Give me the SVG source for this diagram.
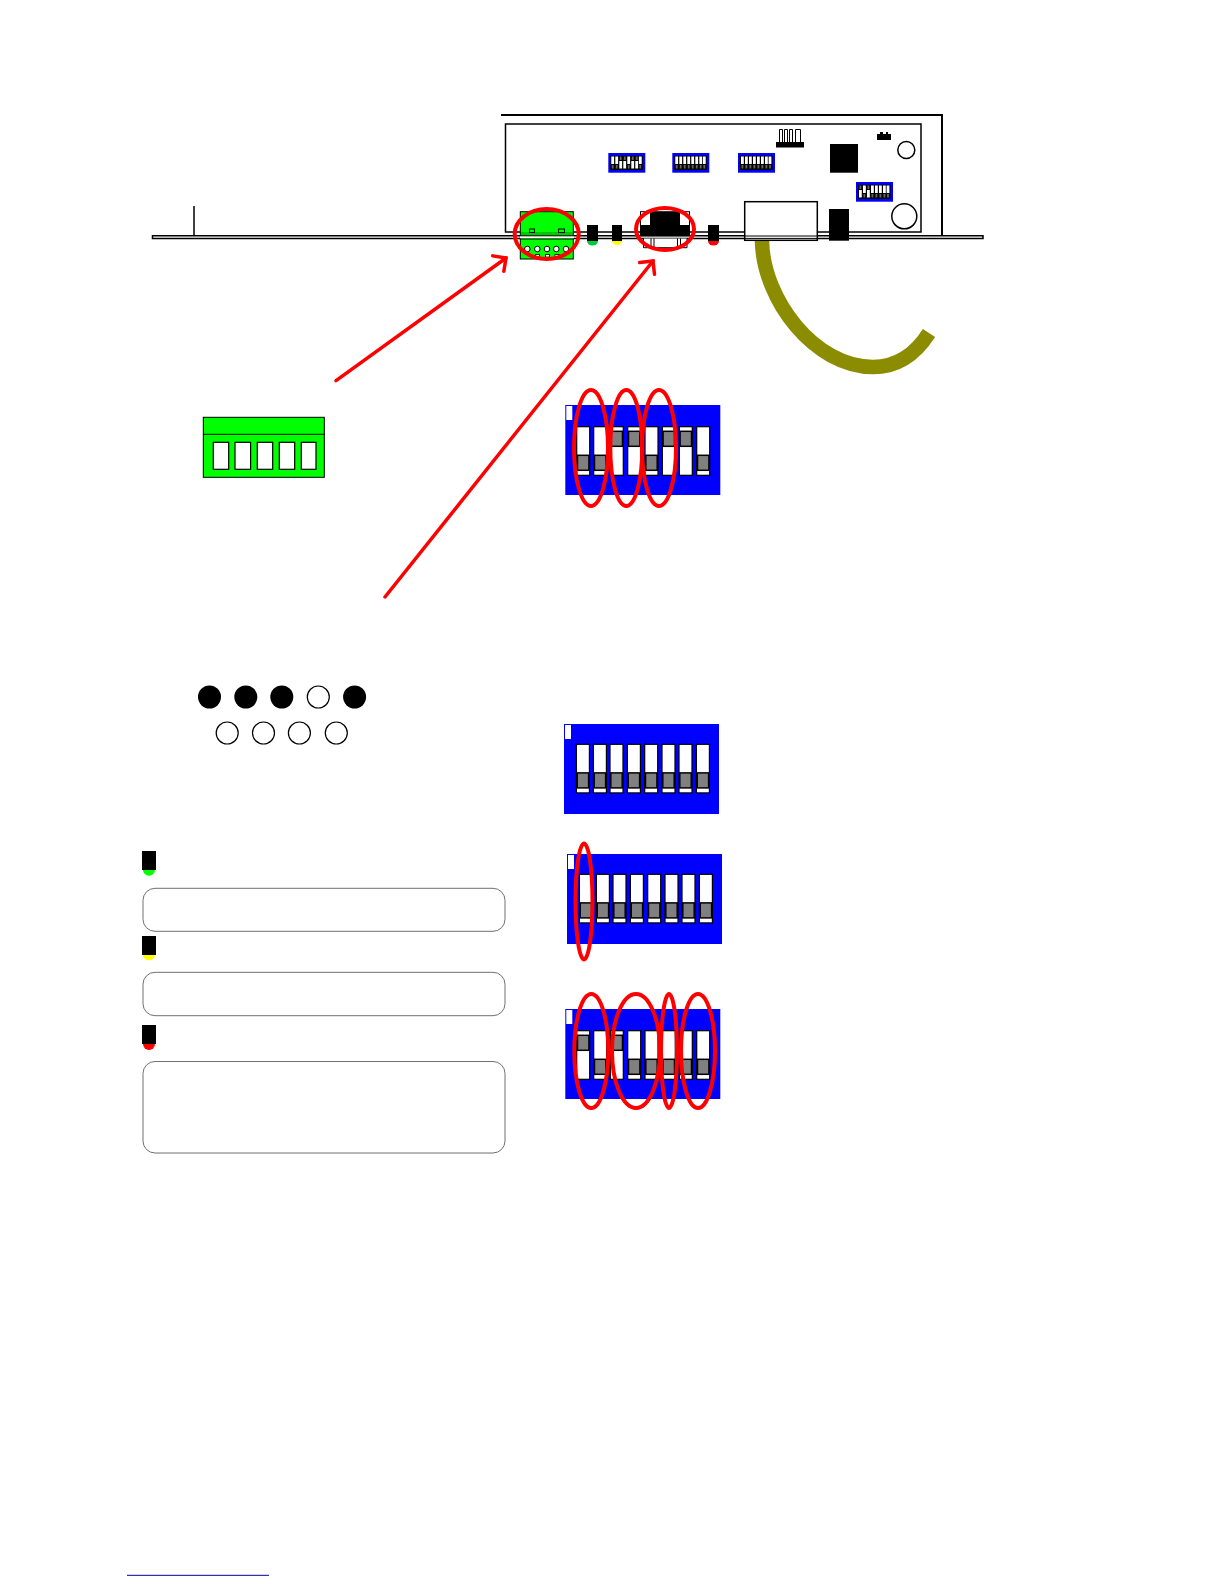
<svg xmlns="http://www.w3.org/2000/svg" width="1224" height="1584" viewBox="0 0 1224 1584">
<style>
.ln{fill:none;stroke:#000;stroke-width:1.5}
.ln2{fill:none;stroke:#000;stroke-width:2}
.wh{fill:#fff;stroke:#000;stroke-width:1.2}
.k{fill:#000}
.blue{fill:#0000ff}
.sw{fill:#fff;stroke:#000;stroke-width:1.2}
.gr{fill:#808080;stroke:#000;stroke-width:1.5}
.red{fill:none;stroke:#ff0000;stroke-width:4}
.grn{fill:#00ff00;stroke:#000;stroke-width:1}
.box{fill:#fff;stroke:#707070;stroke-width:1}
.pin{fill:#fff;stroke:#000;stroke-width:1}
.arrow{fill:none;stroke:#ff0000;stroke-width:3.500;stroke-linecap:round;marker-end:url(#ah)}
</style>
<defs>
<marker id="ah" viewBox="0 0 16 24" refX="13" refY="12" markerWidth="16" markerHeight="24" markerUnits="userSpaceOnUse" orient="auto"><path d="M3.500 2.500L13 12L3.500 21.500" fill="none" stroke="#ff0000" stroke-width="3.500" stroke-linecap="round"/></marker>
<g id="lo"><rect class="sw" x="0" y="0" width="13" height="48.6"/><rect class="gr" x="0.8" y="28.6" width="11.4" height="15"/></g>
<g id="hi"><rect class="sw" x="0" y="0" width="13" height="48.6"/><rect class="gr" x="0.8" y="4.6" width="11.4" height="15"/></g>
<rect id="plate" class="blue" x="0" y="0" width="155" height="90"/>
<rect id="tag" fill="#fff" x="1" y="1" width="6" height="14"/>
<g id="mlo"><rect fill="#fff" width="2.800" height="7.500"/><rect fill="#666" x="0.500" y="8.500" width="1.800" height="3.500"/></g>
<g id="mhi"><rect fill="#fff" y="4.500" width="2.800" height="7.500"/><rect fill="#666" x="0.500" y="0" width="1.800" height="3.500"/></g>
<g id="mini"><rect class="blue" width="37" height="19.700"/><rect class="k" x="2" y="2.700" width="32.500" height="14.300"/></g>
<g id="mrow"><use href="#mlo" x="3"/><use href="#mlo" x="7"/><use href="#mlo" x="11"/><use href="#mlo" x="15"/><use href="#mlo" x="19"/><use href="#mlo" x="23"/><use href="#mlo" x="27"/><use href="#mlo" x="30.600"/></g>
</defs>

<g id="chassis">
<path class="ln2" d="M501 115H942V235"/>
<rect class="ln" x="505.500" y="124" width="415.500" height="108"/>
<path d="M194 206V236" class="ln"/>
<path d="M152.500 235.800H983V238.400H152.500Z" fill="#fff" stroke="#000" stroke-width="1.500"/>
</g>

<g id="cable"><path d="M762 241C763 300 815 367 873 367C896 367 915 355 929 333" fill="none" stroke="#8c8c00" stroke-width="14.500"/></g>

<g id="terminal-block">
<rect class="grn" x="520.300" y="211.700" width="53" height="47.300"/>
<rect fill="#00a000" opacity="0.6" x="521" y="232" width="52" height="3.800"/>
<rect fill="#fff" x="520" y="235.800" width="54" height="2.600"/>
<path d="M520 235.800H574M520 239H574" stroke="#000" stroke-width="1"/>
<rect class="grn" x="529.500" y="229" width="5" height="3.500"/><rect class="grn" x="558.500" y="229" width="6" height="3.500"/>
<g class="pin"><circle cx="527.300" cy="249" r="2.800"/><circle cx="537.300" cy="249" r="2.800"/><circle cx="547" cy="249" r="2.800"/><circle cx="556.300" cy="249" r="2.800"/><circle cx="566" cy="249" r="2.800"/></g>
<g fill="#fff" stroke="#000" stroke-width="0.800"><rect x="535.500" y="254.500" width="4" height="2.500"/><rect x="545.500" y="254.500" width="4" height="2.500"/><rect x="555" y="254.500" width="4" height="2.500"/></g>
</g>

<g id="panel-led-green"><rect class="k" x="587" y="225" width="11" height="16"/><path d="M587 241A5.500 4.500 0 0 0 598 241Z" fill="#00cc33"/></g>
<g id="panel-led-yellow"><rect class="k" x="612" y="225" width="10" height="16"/><path d="M612 241A5 4 0 0 0 622 241Z" fill="#ffff00"/></g>
<g id="panel-led-red"><rect class="k" x="708" y="225" width="11" height="16"/><path d="M708 241A5.500 4.500 0 0 0 719 241Z" fill="#ff0000"/></g>

<g id="db-connector">
<rect x="640.500" y="211.700" width="49" height="24" fill="#fff" stroke="#000"/>
<path class="k" d="M650 212H680V225H690V236H640V225H650Z"/>
<path d="M643.500 238.400V247.700H687V238.400M651 238.400V247.700M654 238.400V247.700M677.500 238.400V247.700M680.500 238.400V247.700" fill="#fff" stroke="#000"/>
</g>

<g id="ethernet"><rect x="744.700" y="201.700" width="72.600" height="38.600" fill="#fff" stroke="#000" stroke-width="1.500"/><path d="M744.700 236H817.300M744.700 238.400H817.300" stroke="#000" stroke-width="1"/></g>
<g id="power-jack"><rect class="k" x="829" y="209" width="20" height="31.700"/></g>

<g id="chip"><rect class="k" x="830" y="144" width="28" height="28.700"/></g>
<g id="header"><rect class="k" x="776" y="142" width="28" height="5.500"/><path d="M779.500 142V129.500H782.500V142M784.500 142V129.500H787.500V142M789.500 142V129.500H792.500V142M795.500 142V129.500H800.500V142" fill="#fff" stroke="#000" stroke-width="1"/></g>
<g id="small-connector"><path class="k" d="M877 134H880V132H883V134H886V132H888V134H891V140H877Z"/></g>
<g id="hole-1"><circle class="ln" cx="906.300" cy="150" r="8.500"/></g>
<g id="hole-2"><circle class="ln" cx="904.300" cy="216.300" r="12.500"/></g>

<g id="mini-dip-1" transform="translate(608.300 153)"><use href="#mini"/><g transform="translate(0 3.500)"><use href="#mlo" x="3"/><use href="#mlo" x="7"/><use href="#mhi" x="11"/><use href="#mhi" x="15"/><use href="#mlo" x="19"/><use href="#mhi" x="23"/><use href="#mhi" x="27"/><use href="#mlo" x="30.600"/></g></g>
<g id="mini-dip-2" transform="translate(672.300 153)"><use href="#mini"/><use href="#mrow" y="3.500"/></g>
<g id="mini-dip-3" transform="translate(738 153)"><use href="#mini"/><use href="#mrow" y="3.500"/></g>
<g id="mini-dip-4" transform="translate(856 182)"><use href="#mini"/><g transform="translate(0 3.500)"><use href="#mhi" x="3"/><use href="#mlo" x="7"/><use href="#mhi" x="11"/><use href="#mlo" x="15"/><use href="#mlo" x="19"/><use href="#mlo" x="23"/><use href="#mlo" x="27"/><use href="#mlo" x="30.600"/></g></g>

<g id="connectors">
<path class="arrow" d="M336 380.700L506 258"/>
<path class="arrow" d="M385 597L653 261"/>
</g>
<g id="panel-highlights">
<ellipse class="red" cx="546.700" cy="234" rx="32" ry="25"/>
<ellipse class="red" cx="665" cy="229" rx="29" ry="21"/>
</g>

<g id="terminal-large">
<rect class="grn" x="203.300" y="417.300" width="121" height="60"/>
<path d="M203.300 434.300H324.300" stroke="#000"/>
<rect class="sw" x="213.300" y="442.300" width="15.400" height="27"/><rect class="sw" x="235" y="442.300" width="15.600" height="27"/><rect class="sw" x="257.300" y="442.300" width="15.400" height="27"/><rect class="sw" x="279.300" y="442.300" width="15.400" height="27"/><rect class="sw" x="301.300" y="442.300" width="14.700" height="27"/>
</g>

<g id="dip-1" transform="translate(565.300 405)"><use href="#plate"/><use href="#tag"/>
<g transform="translate(0 21.700)"><use href="#lo" x="11.400"/><use href="#lo" x="28.400"/><use href="#hi" x="45"/><use href="#hi" x="62.400"/><use href="#lo" x="79.700"/><use href="#hi" x="97"/><use href="#hi" x="114"/><use href="#lo" x="131.400"/></g>
</g>
<g id="dip-1-marks"><ellipse class="red" cx="591" cy="448" rx="17" ry="58"/><ellipse class="red" cx="626.300" cy="448" rx="16" ry="58"/><ellipse class="red" cx="659" cy="448" rx="17" ry="58"/></g>

<g id="dip-2" transform="translate(564 724)"><use href="#plate"/><use href="#tag"/>
<g transform="translate(1 20.300)"><use href="#lo" x="11.400"/><use href="#lo" x="28.400"/><use href="#lo" x="45"/><use href="#lo" x="62.400"/><use href="#lo" x="79.700"/><use href="#lo" x="97"/><use href="#lo" x="114"/><use href="#lo" x="131.400"/></g>
</g>

<g id="dip-3" transform="translate(567 854)"><use href="#plate"/><use href="#tag"/>
<g transform="translate(1 20.300)"><use href="#lo" x="11.400"/><use href="#lo" x="28.400"/><use href="#lo" x="45"/><use href="#lo" x="62.400"/><use href="#lo" x="79.700"/><use href="#lo" x="97"/><use href="#lo" x="114"/><use href="#lo" x="131.400"/></g>
</g>
<g id="dip-3-marks"><ellipse class="red" cx="584" cy="901.500" rx="8.500" ry="58"/></g>

<g id="dip-4" transform="translate(565.300 1009)"><use href="#plate"/><use href="#tag"/>
<g transform="translate(0 21.700)"><use href="#hi" x="11.400"/><use href="#lo" x="28.400"/><use href="#hi" x="45"/><use href="#lo" x="62.400"/><use href="#lo" x="79.700"/><use href="#lo" x="97"/><use href="#lo" x="114"/><use href="#lo" x="131.400"/></g>
</g>
<g id="dip-4-marks"><ellipse class="red" cx="591.300" cy="1051" rx="17" ry="57"/><ellipse class="red" cx="636" cy="1051" rx="24" ry="57"/><ellipse class="red" cx="669" cy="1051" rx="8" ry="57"/><ellipse class="red" cx="698" cy="1051" rx="17" ry="57"/></g>

<g id="db9-pins">
<circle class="k" cx="209.500" cy="697" r="11.500"/><circle class="k" cx="245.800" cy="697" r="11.500"/><circle class="k" cx="281.800" cy="697" r="11.500"/><circle class="wh" cx="318.300" cy="697" r="11"/><circle class="k" cx="354.600" cy="697" r="11.500"/>
<circle class="wh" cx="227.200" cy="733" r="11"/><circle class="wh" cx="263.500" cy="733" r="11"/><circle class="wh" cx="299.400" cy="733" r="11"/><circle class="wh" cx="336.300" cy="733" r="11"/>
</g>

<g id="led-green"><rect class="k" x="142" y="851" width="14" height="19"/><path d="M143 870A6 5.700 0 0 0 155 870Z" fill="#00ff00"/></g>
<g id="box-green"><rect class="box" x="143" y="888.300" width="362" height="43" rx="12"/></g>
<g id="led-yellow"><rect class="k" x="142" y="936" width="14" height="19"/><path d="M143 955A6 5.300 0 0 0 155 955Z" fill="#ffff00"/></g>
<g id="box-yellow"><rect class="box" x="143" y="972.300" width="362" height="43.400" rx="12"/></g>
<g id="led-red"><rect class="k" x="142" y="1025" width="14" height="19"/><path d="M143 1044A6 6 0 0 0 155 1044Z" fill="#ff0000"/></g>
<g id="box-red"><rect class="box" x="143" y="1061.500" width="362" height="91.500" rx="12"/></g>

<g id="footer-rule"><path d="M127 1575.300H269" stroke="#000099" stroke-width="1"/></g>
</svg>
